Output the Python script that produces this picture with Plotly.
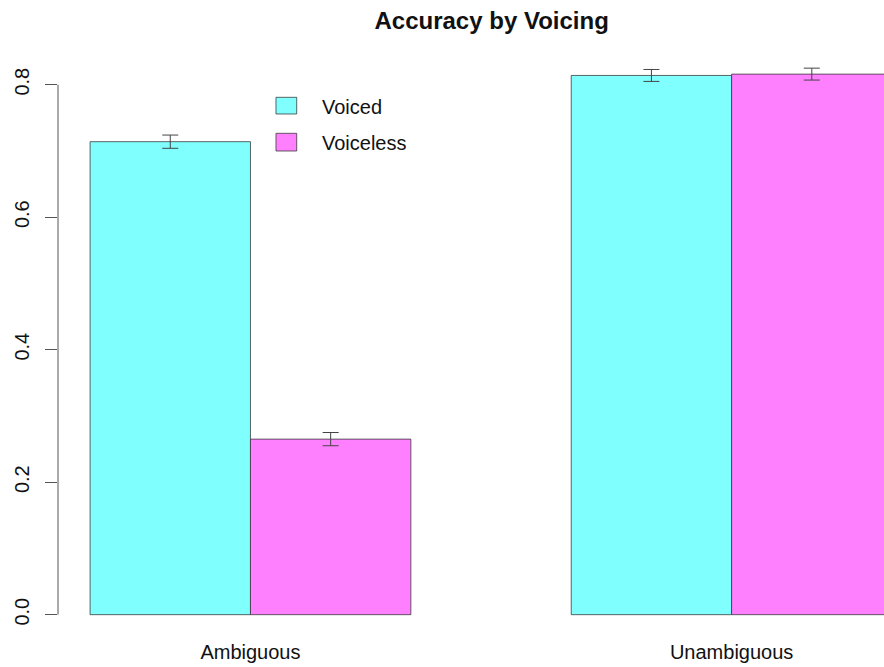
import plotly.graph_objects as go

# ---- data ----
categories = ["Ambiguous", "Unambiguous"]
series_names = ["Voiced", "Voiceless"]
voiced_values = [0.714, 0.814]
voiced_errors = [0.010, 0.009]
voiceless_values = [0.265, 0.816]
voiceless_errors = [0.010, 0.009]
y_ticks = [0.0, 0.2, 0.4, 0.6, 0.8]
title_text = "Accuracy by Voicing"

colors = ["#80FFFF", "#FF80FF"]
FONT = "Liberation Sans, Arial, Helvetica, sans-serif"
EDGE = "rgba(50,50,50,0.75)"
ERR = "#444444"

fig = go.Figure()
for name, vals, errs, col in [
    (series_names[0], voiced_values, voiced_errors, colors[0]),
    (series_names[1], voiceless_values, voiceless_errors, colors[1]),
]:
    fig.add_trace(go.Bar(
        name=name, x=categories, y=vals,
        marker=dict(color=col, line=dict(color=EDGE, width=1)),
        error_y=dict(type="data", array=errs, color=ERR, thickness=1, width=8),
        showlegend=False,
    ))

# R-style y axis line spanning only the tick range
fig.add_shape(type="line", xref="paper", yref="y", x0=0, x1=0,
              y0=y_ticks[0], y1=y_ticks[-1], line=dict(color="#555555", width=1))

# legend drawn like R's legend()
sw_x = (0.2639, 0.289)
sw_y = [(0.9063, 0.9352), (0.842, 0.8727)]
txt_y = [0.9179, 0.8559]
for i, name in enumerate(series_names):
    fig.add_shape(type="rect", xref="paper", yref="paper",
                  x0=sw_x[0], x1=sw_x[1], y0=sw_y[i][0], y1=sw_y[i][1],
                  fillcolor=colors[i], line=dict(color=EDGE, width=1))
    fig.add_annotation(xref="paper", yref="paper", x=0.3172, y=txt_y[i],
                       xanchor="left", yanchor="middle", showarrow=False,
                       text=name, font=dict(family=FONT, size=20, color="#111111"))

fig.update_layout(
    width=884, height=667,
    margin=dict(l=58, r=0, t=60, b=31),
    paper_bgcolor="white", plot_bgcolor="white",
    barmode="group", bargap=1/3, bargroupgap=0,
    font=dict(family=FONT, size=20, color="#111111"),
    title=dict(text=title_text, xref="paper", x=0.525, xanchor="center",
               yref="container", y=0.9685, yanchor="middle",
               font=dict(family=FONT, size=24, color="#111111", weight="bold")),
    xaxis=dict(range=[-0.4, 1.3167], showline=False, showgrid=False,
               zeroline=False, ticks="", ticklabelstandoff=2,
               tickfont=dict(family=FONT, size=20, color="#111111")),
    yaxis=dict(range=[-0.0322, 0.8373], showline=False, showgrid=False,
               zeroline=False, ticks="outside", ticklen=12, tickcolor="#555555",
               tickwidth=1, tickvals=y_ticks, tickformat=".1f", tickangle=-90,
               ticklabelstandoff=8,
               tickfont=dict(family=FONT, size=20, color="#111111")),
)

fig.write_html(
    "out.html",
    config={"displayModeBar": False},
    post_script="document.body.style.margin='0';document.body.style.overflow='hidden';",
)
